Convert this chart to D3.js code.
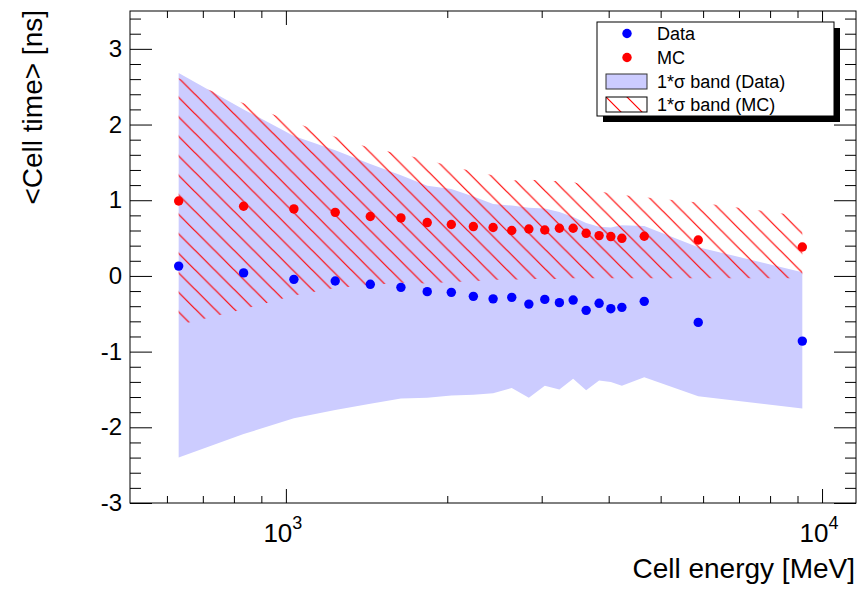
<!DOCTYPE html>
<html>
<head>
<meta charset="utf-8">
<script src="https://cdn.jsdelivr.net/npm/d3@7"></script>
<style>
  body { margin: 0; background: #fff; }
  svg { display: block; font-family: "Liberation Sans", Arial, Helvetica, sans-serif; }
  .tick line { stroke: #000; }
</style>
</head>
<body>
<div id="chart"></div>
<script>
// cell energy [MeV] of each point
const energy = [631, 834, 1035, 1236, 1437, 1639, 1835, 2035, 2237, 2435, 2638, 2839, 3040, 3237, 3434, 3631, 3839, 4037, 4233, 4660, 5876, 9188];
// mean cell time [ns]
const dataMean = [0.13, 0.04, -0.045, -0.067, -0.111, -0.151, -0.208, -0.217, -0.27, -0.303, -0.283, -0.372, -0.31, -0.353, -0.319, -0.455, -0.362, -0.433, -0.415, -0.336, -0.614, -0.861];
const mcMean = [0.99, 0.92, 0.885, 0.84, 0.785, 0.766, 0.705, 0.68, 0.652, 0.64, 0.60, 0.62, 0.607, 0.63, 0.63, 0.563, 0.533, 0.52, 0.497, 0.524, 0.475, 0.382];
// 1 sigma bands
const dataHigh = [2.68, 2.20, 1.85, 1.66, 1.48, 1.33, 1.19, 1.15, 1.05, 0.95, 0.93, 0.90, 0.89, 0.845, 0.78, 0.70, 0.65, 0.64, 0.67, 0.66, 0.38, 0.05];
const dataLow = [-2.40, -2.09, -1.88, -1.77, -1.69, -1.62, -1.61, -1.58, -1.57, -1.55, -1.48, -1.61, -1.45, -1.50, -1.36, -1.51, -1.38, -1.40, -1.45, -1.34, -1.59, -1.75];
const mcHigh = [2.61, 2.28, 2.03, 1.84, 1.69, 1.61, 1.53, 1.45, 1.38, 1.33, 1.26, 1.27, 1.26, 1.25, 1.24, 1.19, 1.12, 1.09, 1.07, 1.04, 0.97, 0.79];
const mcLow = [-0.65, -0.44, -0.26, -0.16, -0.12, -0.09, -0.10, -0.08, -0.07, -0.05, -0.05, -0.04, -0.04, -0.04, -0.03, -0.03, -0.03, -0.03, -0.03, -0.03, -0.03, -0.03];

const xMajor = [1000, 10000];
const xMinor = [600, 700, 800, 900, 2000, 3000, 4000, 5000, 6000, 7000, 8000, 9000];
const yMajor = [-3, -2, -1, 0, 1, 2, 3];
const legendItems = ["Data", "MC", "1*σ band (Data)", "1*σ band (MC)"];

const width = 860, height = 595;
const frame = { left: 130, right: 856, top: 11, bottom: 503 };

const svg = d3.select("#chart").append("svg").attr("width", width).attr("height", height);

const x = d3.scaleLog().domain([512, 11570]).range([frame.left, frame.right]);
const y = d3.scaleLinear().domain([-3, 3.5]).range([frame.bottom, frame.top]);

const yMinor = d3.range(-30, 35, 2).map(d => d / 10).filter(d => !Number.isInteger(d));

const defs = svg.append("defs");
const hatch = defs.append("pattern").attr("id", "hatch").attr("patternUnits", "userSpaceOnUse")
    .attr("width", 19.5).attr("height", 19.5).attr("patternTransform", "translate(0,16.3)");
hatch.append("path").attr("d", "M0,0L19.5,19.5M-5,14.5L5,24.5M14.5,-5L24.5,5")
    .attr("stroke", "#ff0000").attr("stroke-width", 1.2).attr("fill", "none");
const hatchLeg = defs.append("pattern").attr("id", "hatchLeg").attr("patternUnits", "userSpaceOnUse")
    .attr("width", 21).attr("height", 21).attr("patternTransform", "translate(606,97)");
hatchLeg.append("path").attr("d", "M0,0L21,21M-5,16L5,26M16,-5L26,5")
    .attr("stroke", "#ff0000").attr("stroke-width", 1.2).attr("fill", "none");

const pts = energy.map((e, i) => ({ e, dm: dataMean[i], mm: mcMean[i], dh: dataHigh[i], dl: dataLow[i], mh: mcHigh[i], ml: mcLow[i] }));

// bands
svg.append("path").datum(pts)
    .attr("fill", "#ccccff")
    .attr("d", d3.area().x(d => x(d.e)).y0(d => y(d.dl)).y1(d => y(d.dh)));
svg.append("path").datum(pts)
    .attr("fill", "url(#hatch)")
    .attr("d", d3.area().x(d => x(d.e)).y0(d => y(d.ml)).y1(d => y(d.mh)));

// markers
svg.append("g").selectAll("circle").data(pts).join("circle")
    .attr("cx", d => x(d.e)).attr("cy", d => y(d.dm)).attr("r", 4.7).attr("fill", "#0000ff");
svg.append("g").selectAll("circle").data(pts).join("circle")
    .attr("cx", d => x(d.e)).attr("cy", d => y(d.mm)).attr("r", 4.7).attr("fill", "#ff0000");

// axes (ticks pointing inward on all four sides)
function addAxis(axis, tx, ty) {
    const g = svg.append("g").attr("transform", `translate(${tx},${ty})`).call(axis);
    g.select(".domain").remove();
    return g;
}
addAxis(d3.axisLeft(y).tickValues(yMinor).tickSize(-11).tickFormat(""), frame.left, 0);
const yAx = addAxis(d3.axisLeft(y).tickValues(yMajor).tickSize(-22).tickPadding(8).tickFormat(d => String(d)), frame.left, 0);
yAx.selectAll("text").attr("font-size", 24).attr("font-family", null).attr("fill", "#000");
addAxis(d3.axisRight(y).tickValues(yMinor).tickSize(-11).tickFormat(""), frame.right, 0);
addAxis(d3.axisRight(y).tickValues(yMajor).tickSize(-22).tickFormat(""), frame.right, 0);

addAxis(d3.axisBottom(x).tickValues(xMinor).tickSize(-7).tickFormat(""), 0, frame.bottom);
addAxis(d3.axisBottom(x).tickValues(xMajor).tickSize(-14).tickFormat(""), 0, frame.bottom);
addAxis(d3.axisTop(x).tickValues(xMinor).tickSize(-7).tickFormat(""), 0, frame.top);
addAxis(d3.axisTop(x).tickValues(xMajor).tickSize(-14).tickFormat(""), 0, frame.top);

// 10^n labels
const xl = svg.append("g").selectAll("text").data(xMajor).join("text")
    .attr("x", d => x(d) - 3).attr("y", 542).attr("text-anchor", "middle").attr("font-size", 26);
xl.append("tspan").text(d => "10");
xl.append("tspan").attr("font-size", 18).attr("dy", -13).text(d => Math.round(Math.log10(d)));

// frame
svg.append("rect").attr("x", frame.left).attr("y", frame.top)
    .attr("width", frame.right - frame.left).attr("height", frame.bottom - frame.top)
    .attr("fill", "none").attr("stroke", "#000").attr("stroke-width", 1);

// titles
svg.append("text").attr("x", 855).attr("y", 578).attr("text-anchor", "end")
    .attr("font-size", 28).text("Cell energy [MeV]");
svg.append("text").attr("transform", "translate(42,10) rotate(-90)").attr("text-anchor", "end")
    .attr("font-size", 28).text("<Cell time> [ns]");

// legend
const lg = { x: 597, y: 22, w: 237, h: 94 };
svg.append("rect").attr("x", lg.x + 6).attr("y", lg.y + 6).attr("width", lg.w).attr("height", lg.h).attr("fill", "#000");
svg.append("rect").attr("x", lg.x).attr("y", lg.y).attr("width", lg.w).attr("height", lg.h)
    .attr("fill", "#fff").attr("stroke", "#000");
const rowY = [33.5, 57.5, 81.5, 104.5];
svg.append("circle").attr("cx", 627).attr("cy", rowY[0]).attr("r", 4.7).attr("fill", "#0000ff");
svg.append("circle").attr("cx", 627).attr("cy", rowY[1]).attr("r", 4.7).attr("fill", "#ff0000");
svg.append("rect").attr("x", 606).attr("y", rowY[2] - 7.5).attr("width", 41).attr("height", 15)
    .attr("fill", "#ccccff").attr("stroke", "#333");
svg.append("rect").attr("x", 606).attr("y", rowY[3] - 7.5).attr("width", 41).attr("height", 15)
    .attr("fill", "url(#hatchLeg)").attr("stroke", "#000");
svg.append("g").selectAll("text").data(legendItems).join("text")
    .attr("x", 657).attr("y", (d, i) => rowY[i]).attr("dy", "0.35em")
    .attr("font-size", 18).text(d => d);
</script>
</body>
</html>
